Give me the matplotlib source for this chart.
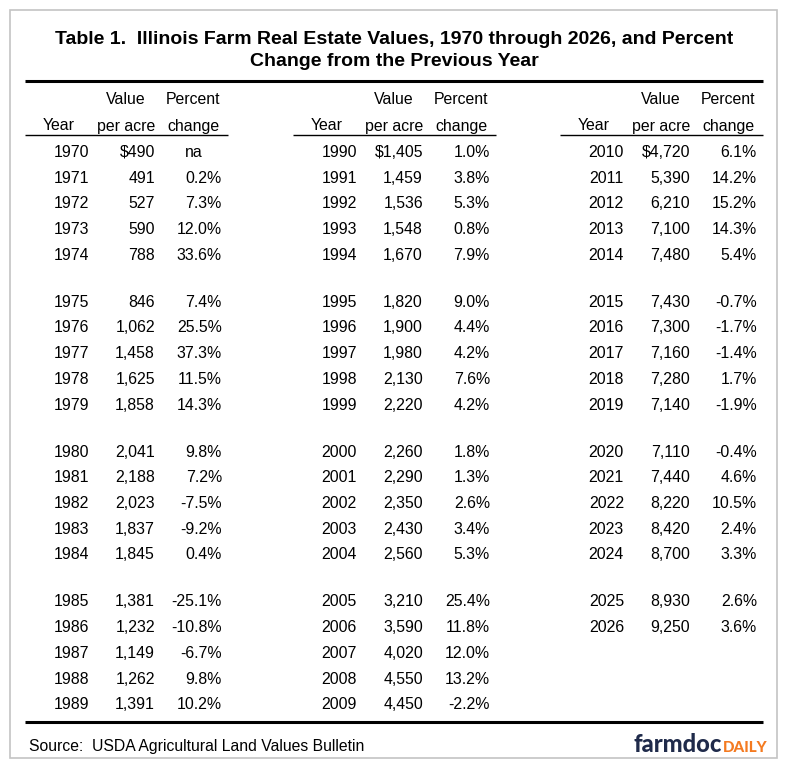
import matplotlib
matplotlib.use("Agg")
import matplotlib.pyplot as plt
from matplotlib.patches import Rectangle

plt.rcParams['font.family'] = ['Liberation Sans', 'DejaVu Sans']

title_lines = ["Table 1.  Illinois Farm Real Estate Values, 1970 through 2026, and Percent",
               "Change from the Previous Year"]
source_text = "Source:  USDA Agricultural Land Values Bulletin"

years_p1 = [1970, 1971, 1972, 1973, 1974, 1975, 1976, 1977, 1978, 1979,
            1980, 1981, 1982, 1983, 1984, 1985, 1986, 1987, 1988, 1989]
values_p1 = [490, 491, 527, 590, 788, 846, 1062, 1458, 1625, 1858,
             2041, 2188, 2023, 1837, 1845, 1381, 1232, 1149, 1262, 1391]
pct_p1 = [None, 0.2, 7.3, 12.0, 33.6, 7.4, 25.5, 37.3, 11.5, 14.3,
          9.8, 7.2, -7.5, -9.2, 0.4, -25.1, -10.8, -6.7, 9.8, 10.2]

years_p2 = [1990, 1991, 1992, 1993, 1994, 1995, 1996, 1997, 1998, 1999,
            2000, 2001, 2002, 2003, 2004, 2005, 2006, 2007, 2008, 2009]
values_p2 = [1405, 1459, 1536, 1548, 1670, 1820, 1900, 1980, 2130, 2220,
             2260, 2290, 2350, 2430, 2560, 3210, 3590, 4020, 4550, 4450]
pct_p2 = [1.0, 3.8, 5.3, 0.8, 7.9, 9.0, 4.4, 4.2, 7.6, 4.2,
          1.8, 1.3, 2.6, 3.4, 5.3, 25.4, 11.8, 12.0, 13.2, -2.2]

years_p3 = [2010, 2011, 2012, 2013, 2014, 2015, 2016, 2017, 2018, 2019,
            2020, 2021, 2022, 2023, 2024, 2025, 2026]
values_p3 = [4720, 5390, 6210, 7100, 7480, 7430, 7300, 7160, 7280, 7140,
             7110, 7440, 8220, 8420, 8700, 8930, 9250]
pct_p3 = [6.1, 14.2, 15.2, 14.3, 5.4, -0.7, -1.7, -1.4, 1.7, -1.9,
          -0.4, 4.6, 10.5, 2.4, 3.3, 2.6, 3.6]

panels = [(years_p1, values_p1, pct_p1),
          (years_p2, values_p2, pct_p2),
          (years_p3, values_p3, pct_p3)]

fig = plt.figure(figsize=(7.88, 7.69), dpi=100)
ax = fig.add_axes([0, 0, 1, 1])
ax.set_xlim(0, 788)
ax.set_ylim(769, 0)
ax.axis('off')

# outer border
ax.add_patch(Rectangle((10, 10), 767, 748, fill=False, edgecolor='#c4c4c4', lw=1.2))

# title
ax.text(394.5, 39, title_lines[0], ha='center', va='center', fontsize=14.0, fontweight='bold')
ax.text(394.5, 62, title_lines[1], ha='center', va='center', fontsize=14.0, fontweight='bold')

# top and bottom rules
ax.plot([25, 763], [81, 81], color='black', lw=2.2, solid_capstyle='butt')
ax.plot([25, 763], [722, 722], color='black', lw=2.2, solid_capstyle='butt')

fs = 11.4
panel_off = [0, 268, 535]
for p, (yrs, vals, pcts) in enumerate(panels):
    o = panel_off[p]
    # headers
    ax.text(o + 126, 100, "Value", ha='center', va='center', fontsize=fs)
    ax.text(o + 193.5, 100, "Percent", ha='center', va='center', fontsize=fs)
    ax.text(o + 59, 126, "Year", ha='center', va='center', fontsize=fs)
    ax.text(o + 126, 126, "per acre", ha='center', va='center', fontsize=fs)
    ax.text(o + 193.5, 126, "change", ha='center', va='center', fontsize=fs)
    ax.plot([o + 25, o + 228], [134.5, 134.5], color='black', lw=1.0, solid_capstyle='butt')
    for i, (yr, v, pc) in enumerate(zip(yrs, vals, pcts)):
        g, r = divmod(i, 5)
        y = 152.5 + g * 149.8 + r * 25.7
        ax.text(o + 89, y, str(yr), ha='right', va='center', fontsize=fs)
        vs = f"{v:,}"
        if i == 0:
            vs = "$" + vs
        ax.text(o + 155, y, vs, ha='right', va='center', fontsize=fs)
        if pc is None:
            ax.text(o + 194, y, "na", ha='center', va='center', fontsize=fs)
        else:
            ax.text(o + 222, y, f"{pc:.1f}%", ha='right', va='center', fontsize=fs)

# source
ax.text(29, 746, source_text, ha='left', va='center', fontsize=11.3)

# logo
ax.text(722, 752, "farmdoc", ha='right', va='baseline', fontsize=17,
        fontweight='black', family=['Lato', 'DejaVu Sans'], color='#1f2a4a')
ax.text(722.5, 752, "DAILY", ha='left', va='baseline', fontsize=11,
        fontweight='black', family=['Lato', 'DejaVu Sans'], color='#f47a20')

fig.savefig("out.png", dpi=100)
